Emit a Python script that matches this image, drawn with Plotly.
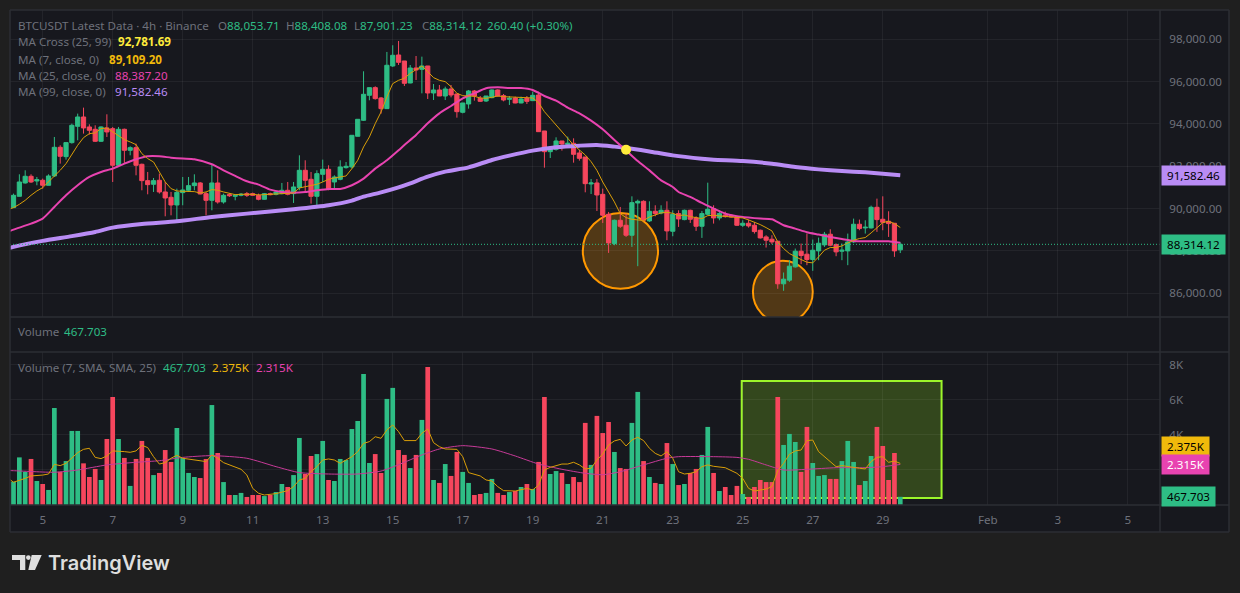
import pandas as pd
import plotly.graph_objects as go

W, H = 1240, 593
GREEN = "#2EBD85"
RED = "#F6465D"
AMBER = "#F0B90B"
MAGENTA = "#E843B0"
PURPLE = "#B98CF5"
GREY = "#6E717B"
PANE = "#17181E"
OUTER = "#1F1F1F"
GRID = "rgba(255,255,255,0.055)"
EDGE = "#2C2E34"
FONT = "Noto Sans, sans-serif"
FS = 11.6

opens = [
 90047,90583,91213,91528,91307,91339,91103,91544,92898,92457,
 93119,93890,94331,93859,93749,93182,93812,93780,92048,93749,
 92756,92882,92095,91323,91150,91339,90788,90536,90173,90756,
 90866,91087,91213,90709,90394,91213,90315,90662,90583,90630,
 90709,90709,90630,90441,90709,90677,90709,90866,90709,90992,
 91811,91386,90583,91622,91859,91260,91386,91938,91969,93418,
 94174,95355,95717,95229,94725,96741,97260,96976,95937,96645,
 96582,96740,95464,95606,95322,95653,95417,94551,94944,95559,
 95212,95086,95244,95606,95338,95165,95228,94992,95212,95102,
 95370,93669,92692,92802,93196,93039,93086,92629,92440,91165,
 91212,90676,89733,88350,89450,89214,88743,90268,90346,89419,
 89875,89796,89922,88931,89765,89482,89922,89560,89167,89733,
 90000,89560,89702,89686,89607,89214,89309,89214,88979,88664,
 88554,88460,86448,86621,87249,87988,87847,87595,88004,88287,
 88790,88303,87988,88004,88428,89262,89089,89089,90063,89497,
 89403,89309,88053.71]
highs = [
 90709,91622,91811,91622,91496,91418,91622,93386,92993,93119,
 94016,94489,94772,93985,93938,93890,94457,93859,93859,93780,
 92945,93071,92126,91733,91449,91654,91260,90788,90945,91496,
 91496,91622,91260,90788,92095,91811,90709,90740,90677,90740,
 90788,90756,90709,90740,90756,90835,91213,91260,91260,92520,
 92284,91733,91811,92315,92048,91575,92284,92205,93465,94221,
 96489,95717,95780,95276,97403,97718,97921,96976,96787,97212,
 97181,96740,95889,95842,95763,95842,95417,94992,95606,95606,
 95322,95322,95637,95637,95417,95322,95291,95291,95322,95527,
 95527,93669,92929,93370,93196,93401,93322,92771,92440,91401,
 91401,90944,89843,89482,90079,89765,90582,90425,90393,90346,
 90158,90158,90346,89922,89922,89953,89953,89639,89890,91227,
 90158,89922,89859,89733,89639,89450,89482,89372,89010,88743,
 88743,88460,86982,87564,88114,88350,88821,88538,88633,88900,
 89026,88350,88350,88821,89529,89482,89450,90142,90472,90582,
 89875,89309,88408.08]
lows = [
 90047,90583,91181,91213,91103,90945,91103,91496,92126,92315,
 93071,93229,93544,93497,93150,93150,93386,91260,92016,92126,
 92520,91575,90866,90677,90788,90709,89638,89685,89323,90158,
 90788,90866,90677,89685,89921,90236,90236,90551,90394,90583,
 90551,90600,90394,90425,90630,90630,90677,90630,90268,90866,
 90788,90236,90110,91260,90866,90945,91339,91890,91890,93418,
 94142,95119,95150,94489,94725,96694,96787,95795,95921,96078,
 95448,95181,95133,95322,95133,95259,94299,94503,94724,95102,
 95039,95039,95212,95291,95070,94897,94976,94976,94944,95086,
 93637,91936,92393,92740,92740,93007,92172,92267,90771,90692,
 89889,89324,87910,88271,89089,88664,88193,87281,89403,89372,
 89639,89733,88507,88696,89136,89450,89324,88947,88617,89686,
 89293,89450,89576,89576,89183,89136,89104,88821,88586,88161,
 88318,86212,86118,86542,87218,87375,87328,87061,87564,88193,
 88224,87752,87564,87328,88381,88979,88821,89057,88900,88979,
 88664,87721,87901.23]
closes = [
 90630,91260,91528,91260,91370,91103,91544,92898,92473,93119,
 93938,94331,93812,93701,93182,93859,93623,92048,93749,92756,
 92882,92048,91323,91134,91323,90788,90504,90173,90772,90882,
 91087,91213,90693,90394,91213,90315,90630,90614,90630,90677,
 90630,90630,90441,90709,90662,90788,90866,90677,91024,91811,
 91339,90583,91654,91859,90945,91496,91969,92000,93465,94221,
 95402,95717,95198,94725,96773,97245,96913,95921,96645,96551,
 96740,95464,95606,95322,95653,95370,94582,94992,95559,95322,
 95070,95322,95606,95322,95133,95212,94992,95181,95070,95354,
 93637,92692,92865,93196,93054,93086,92566,92377,91180,91212,
 90645,89686,88381,89450,89167,88743,90283,90346,89450,89875,
 89765,89922,88947,89733,89513,89922,89497,89167,89765,89969,
 89560,89765,89623,89607,89214,89309,89183,88916,88617,88507,
 88428,86448,86668,87281,87988,87784,87595,88035,88366,88790,
 88271,87957,88035,88428,89262,89057,89120,90063,89482,89356,
 89293,88004,88314.12]
volumes = [
 1.33,2.72,1.90,2.63,1.37,1.20,0.86,5.54,1.90,2.51,
 4.23,4.23,2.38,1.60,2.06,1.43,3.77,6.17,3.77,2.69,
 1.09,2.63,3.66,2.69,1.71,1.83,3.14,2.46,4.40,2.69,
 1.83,1.60,1.54,2.63,5.71,2.97,1.31,0.57,0.57,0.69,
 0.46,0.57,0.57,0.51,0.57,0.74,1.20,1.03,1.71,3.83,
 1.77,2.80,2.91,3.66,1.43,1.37,2.63,2.57,4.34,4.80,
 7.49,2.40,2.91,1.83,6.06,6.69,3.14,2.86,2.11,2.86,
 4.86,7.89,1.43,1.26,2.34,1.66,3.03,1.89,1.26,0.57,
 0.63,0.69,1.49,0.69,0.57,0.74,0.80,1.03,1.20,0.91,
 2.46,6.17,1.77,1.94,1.83,1.20,1.60,1.31,4.69,2.29,
 5.09,4.11,4.74,3.03,2.11,2.06,4.69,6.46,2.51,1.60,
 1.26,1.20,3.54,2.34,1.14,1.20,1.83,2.06,2.86,4.46,
 1.83,0.80,1.03,0.57,1.09,0.63,0.46,1.03,1.43,1.31,
 1.31,6.17,3.43,4.06,3.60,1.89,4.46,2.40,1.66,1.71,
 1.49,1.49,2.51,3.66,2.46,1.14,1.37,2.80,4.46,3.37,
 1.43,2.97,0.468]
ma7_idx = [-1] + list(range(153))
ma7 = [89950,
 90047,90205,90394,90630,90835,90992,91260,91575,91811,92126,
 92567,92993,93355,93544,93576,93780,93812,93623,93434,93260,
 93150,93024,92599,92363,92205,91733,91260,90945,90835,90819,
 90803,90803,90740,90788,90898,90866,90788,90740,90662,90677,
 90693,90677,90646,90662,90677,90709,90740,90740,90740,90977,
 91024,91071,91150,91260,91386,91449,91496,91544,91890,92284,
 92914,93386,94016,94568,95276,95906,96064,96157,96394,96582,
 96740,96472,96189,96063,96000,95764,95449,95338,95338,95307,
 95228,95212,95260,95322,95291,95275,95244,95228,95228,95228,
 95007,94582,94267,93952,93685,93370,93007,92771,92535,92220,
 91808,91258,90786,90315,89765,89576,89497,89450,89435,89607,
 89702,89796,89827,89780,89670,89702,89623,89560,89529,89670,
 89686,89655,89639,89623,89607,89560,89466,89372,89246,89104,
 88947,88428,88114,87878,87721,87595,87469,87438,87721,88035,
 88161,88161,88240,88381,88507,88586,88633,88853,89104,89340,
 89403,89293,89109.20]
ma25_idx = [-1,0,3,5,7,9,11,13,15,17,19,21,23,25,27,29,31,34,36,38,40,42,44,46,48,50,52,54,56,58,60,62,64,66,
            67,69,71,73,75,77,79,81,83,85,87,89,91,93,95,97,99,101,103,105,107,109,111,113,114,116,118,120,
            122,124,126,128,130,132,134,136,138,140,142,144,146,148,150,152]
ma25 = [88900,89008,89291,89528,90079,90630,91103,91496,91733,91890,92126,92331,92473,92473,92410,92363,92331,92095,
        91811,91544,91292,91134,90898,90788,90756,90788,90866,90929,90929,91103,91418,91890,92284,92756,
        93007,93480,94031,94503,94850,95212,95449,95685,95732,95700,95700,95606,95322,95102,94771,94503,94157,
        93748,93243,92751,92248,91808,91337,91022,90786,90551,90268,90000,89765,89639,89576,89529,89497,89214,
        89057,88884,88774,88664,88570,88476,88460,88460,88460,88387.20]
ma99_idx = [-1,0,5,10,14,17,22,28,34,40,48,54,58,60,63,66,68,71,74,78,82,85,89,93,97,100,103,106,109,113,118,120,125,130,134,138,142,146,149,152]
ma99 = [88120,88193,88476,88700,88900,89103,89276,89402,89606,89764,89969,90158,90380,90566,90771,91007,91196,91511,91747,
        91952,92299,92503,92740,92897,92976,93007,92930,92830,92704,92516,92358,92311,92248,92123,91965,91855,91777,
        91714,91651,91582.46]
vma7_idx = [-1,0,2,3,5,6,7,8,9,10,11,12,13,14,15,16,17,19,20,21,22,23,24,25,26,27,28,29,31,33,34,35,36,37,39,40,41,42,43,45,47,48,
            49,50,51,52,53,54,55,56,57,58,59,60,61,62,63,64,65,66,67,69,70,71,72,73,74,76,77,78,80,81,82,83,84,86,88,89,
            90,91,92,94,95,96,97,98,99,100,101,102,103,104,105,106,107,108,109,110,111,112,113,114,115,116,117,118,119,120,
            122,124,125,126,127,129,130,131,132,133,134,135,136,137,138,139,140,141,142,143,145,146,147,148,149,150,151,152]
vma7 = [1.55,1.30,1.52,1.66,1.71,1.77,2.32,2.25,2.38,2.67,2.99,3.18,3.24,2.72,2.65,2.80,3.09,3.05,3.01,3.09,3.41,3.28,2.76,2.34,
        2.42,2.67,2.84,2.67,2.57,2.48,2.86,2.67,2.42,2.29,2.04,1.71,0.95,0.67,0.57,0.65,0.82,1.05,
        1.43,1.52,1.90,2.19,2.57,2.63,2.57,2.38,2.57,2.76,3.05,3.52,3.62,3.90,3.81,4.29,4.57,4.19,3.68,3.68,4.10,4.34,3.56,3.33,3.20,
        3.18,2.76,1.85,1.66,1.43,1.37,1.05,0.82,0.80,0.95,0.86,
        1.14,2.00,2.15,2.34,2.34,2.44,2.29,2.06,2.10,2.57,2.91,3.43,3.66,3.75,3.37,3.71,3.87,3.68,3.24,2.95,2.80,3.05,2.67,1.90,1.77,
        1.81,1.90,2.19,2.29,2.21,
        2.13,1.81,1.52,0.95,0.80,0.91,1.05,1.96,2.38,2.90,3.09,3.14,3.68,3.71,3.05,2.76,2.48,2.19,2.25,2.19,2.10,2.06,2.48,2.72,2.76,2.44,2.51,2.375]
vma25_idx = [-1,0,7,11,16,21,25,29,34,40,45,49,54,59,63,66,70,73,77,82,86,90,94,98,101,104,108,112,114,120,124,126,129,132,136,141,146,149,152]
vma25 = [1.97,1.96,1.87,2.00,2.29,2.44,2.53,2.72,2.82,2.67,2.19,1.85,1.77,1.77,1.94,2.30,2.86,3.20,3.39,3.20,2.80,2.34,2.04,1.81,
         1.73,1.90,2.29,2.67,2.76,2.76,2.72,2.61,2.29,2.00,2.04,2.13,2.13,2.19,2.315]
price_ticks = [98000, 96000, 94000, 92000, 90000, 88000, 86000]
volume_ticks = [8, 6, 4, 2]
volume_labels = ["8K", "6K", "4K", "2K"]
date_ticks = ["2026-01-05","2026-01-07","2026-01-09","2026-01-11","2026-01-13","2026-01-15","2026-01-17","2026-01-19",
              "2026-01-21","2026-01-23","2026-01-25","2026-01-27","2026-01-29","2026-02-01","2026-02-03","2026-02-05"]
date_labels = ["5","7","9","11","13","15","17","19","21","23","25","27","29","Feb","3","5"]
cross_time, cross_value = "2026-01-21 16:00", 92781.69
last_price, ma99_last = 88314.12, 91582.46

for a in (opens, highs, lows, closes, volumes):
    assert len(a) == 153, len(a)
assert len(ma7) == len(ma7_idx) and len(ma25) == len(ma25_idx) and len(ma99) == len(ma99_idx)
assert len(vma7) == len(vma7_idx), (len(vma7), len(vma7_idx))
assert len(vma25) == len(vma25_idx)

start = pd.Timestamp("2026-01-04 04:00")
times = [start + pd.Timedelta(hours=4 * i) for i in range(153)]
bar_colors = [GREEN if c >= o else RED for o, c in zip(opens, closes)]
pick = lambda idx: [start + pd.Timedelta(hours=4 * i) for i in idx]

fig = go.Figure()
fig.add_trace(go.Candlestick(x=times, open=opens, high=highs, low=lows, close=closes,
    increasing=dict(line=dict(color=GREEN, width=1), fillcolor=GREEN),
    decreasing=dict(line=dict(color=RED, width=1), fillcolor=RED),
    whiskerwidth=0, xaxis="x", yaxis="y", showlegend=False, hoverinfo="skip"))
fig.add_trace(go.Scatter(x=pick(ma99_idx), y=ma99, mode="lines", line=dict(color=PURPLE, width=4, shape="spline", smoothing=0.6), xaxis="x", yaxis="y"))
fig.add_trace(go.Scatter(x=pick(ma25_idx), y=ma25, mode="lines", line=dict(color=MAGENTA, width=2, shape="spline", smoothing=0.6), xaxis="x", yaxis="y"))
fig.add_trace(go.Scatter(x=pick(ma7_idx), y=ma7, mode="lines", line=dict(color="#D99E08", width=1), xaxis="x", yaxis="y"))
fig.add_trace(go.Scatter(x=[pd.Timestamp(cross_time)], y=[cross_value], mode="markers", marker=dict(color="#FFEB3B", size=10), xaxis="x", yaxis="y"))
fig.add_trace(go.Bar(x=times, y=volumes, marker=dict(color=bar_colors, line=dict(width=0)), width=11600000, xaxis="x2", yaxis="y2"))
fig.add_trace(go.Scatter(x=pick(vma25_idx), y=vma25, mode="lines", line=dict(color="#C73A98", width=1, shape="spline", smoothing=0.6), xaxis="x2", yaxis="y2"))
fig.add_trace(go.Scatter(x=pick(vma7_idx), y=vma7, mode="lines", line=dict(color="#D99E08", width=1), xaxis="x2", yaxis="y2"))

def px(x): return x / W
def py(y): return 1 - y / H

xr = ["2026-01-04 01:35", "2026-02-05 22:05"]
xcommon = dict(domain=[px(10), px(1160)], range=xr, type="date", tickmode="array", tickvals=date_ticks,
               showgrid=True, gridcolor=GRID, gridwidth=1, zeroline=False, showline=False)
ticklab = dict(family=FONT, size=FS, color=GREY)
layout = dict(
    width=W, height=H, margin=dict(l=0, r=0, t=0, b=0), autosize=False,
    paper_bgcolor=OUTER, plot_bgcolor=PANE, showlegend=False, boxgap=0.28, boxgroupgap=0, hovermode=False,
    xaxis=dict(**xcommon, anchor="y", ticktext=[""] * len(date_ticks), rangeslider=dict(visible=False), ticks=""),
    xaxis2=dict(**xcommon, anchor="y2", ticktext=date_labels, tickfont=ticklab, ticks="outside", ticklen=4, tickcolor="rgba(0,0,0,0)"),
    yaxis=dict(domain=[py(317), py(10)], range=[84880, 99385], side="right", anchor="x", tickmode="array",
               tickvals=price_ticks, tickformat=",.2f", tickfont=ticklab, gridcolor=GRID, zeroline=False,
               ticks="outside", ticklen=6, tickcolor="rgba(0,0,0,0)", showline=False),
    yaxis2=dict(domain=[py(505), py(352)], range=[0, 8.74], side="right", anchor="x2", tickmode="array",
                tickvals=volume_ticks, ticktext=volume_labels, tickfont=ticklab, gridcolor=GRID, zeroline=False,
                ticks="outside", ticklen=6, tickcolor="rgba(0,0,0,0)", showline=False),
)

shapes = [
    dict(type="rect", xref="paper", yref="paper", x0=px(10), x1=px(1229), y0=py(532), y1=py(10), fillcolor=PANE, line=dict(width=0), layer="below"),
    dict(type="circle", xref="x", yref="y", x0="2026-01-20 10:19", x1="2026-01-22 13:55", y0=86212, y1=89796,
         line=dict(color="#FF9800", width=2), fillcolor="rgba(255,152,0,0.25)", layer="below"),
    dict(type="circle", xref="x", yref="y", x0="2026-01-25 06:58", x1="2026-01-27 00:00", y0=84610, y1=87533,
         line=dict(color="#FF9800", width=2), fillcolor="rgba(255,152,0,0.25)", layer="below"),
    dict(type="rect", xref="x2", yref="y2", x0="2026-01-24 23:17", x1="2026-01-30 16:19", y0=0.4, y1=7.09,
         line=dict(color="#9CF52A", width=2), fillcolor="rgba(130,200,30,0.27)", layer="below"),
    dict(type="line", xref="paper", yref="y", x0=px(10), x1=px(1160), y0=last_price, y1=last_price,
         line=dict(color=GREEN, width=1, dash="1px,2px")),
]
for (x0, y0, x1, y1) in [(10,10,1229,10),(10,532,1229,532),(10,10,10,532),(1229,10,1229,532),(1160,10,1160,532),
                         (10,317,1229,317),(10,352,1229,352),(10,505,1229,505)]:
    shapes.append(dict(type="line", xref="paper", yref="paper", x0=px(x0), x1=px(x1), y0=py(y0), y1=py(y1),
                       line=dict(color=EDGE, width=1.5)))
def path(points):
    return "M" + " L".join(f"{px(a):.5f},{py(b):.5f}" for a, b in points) + " Z"
LOGO = "#DEDEDE"
shapes.append(dict(type="path", xref="paper", yref="paper", path=path([(12,555),(25.3,555),(25.3,570),(20,570),(20,560),(12,560)]), fillcolor=LOGO, line=dict(width=0)))
shapes.append(dict(type="path", xref="paper", yref="paper", path=path([(31.7,555),(41.7,555),(35,570),(28.3,570)]), fillcolor=LOGO, line=dict(width=0)))
shapes.append(dict(type="circle", xref="paper", yref="paper", x0=px(26), x1=px(30.7), y0=py(560), y1=py(555.2), fillcolor=LOGO, line=dict(width=0)))
layout["shapes"] = shapes

anns = []
def label(x, y, text, color=GREY, size=FS, weight=None, family=FONT):
    t = f"<b>{text}</b>" if weight == "bold" else text
    f = dict(family=family, size=size, color=color)
    if isinstance(weight, int):
        f["weight"] = weight
    anns.append(dict(xref="paper", yref="paper", x=px(x), y=py(y), text=t, showarrow=False, xanchor="left", yanchor="middle",
                     font=f, borderpad=0, borderwidth=0))
label(18, 25, "BTCUSDT Latest Data · 4h · Binance")
for x, a, b in [(218, "O", "88,053.71"), (286, "H", "88,408.08"), (354, "L", "87,901.23"), (422, "C", "88,314.12")]:
    label(x, 25, f'{a}<span style="color:{GREEN}">{b}</span>')
label(487, 25, "260.40 (+0.30%)", GREEN)
label(18, 42, "MA Cross (25, 99)"); label(118, 42, "92,781.69", "#FFEB3B", weight="bold")
label(18, 59, "MA (7, close, 0)"); label(109, 59, "89,109.20", AMBER, weight="bold")
label(18, 76, "MA (25, close, 0)"); label(115, 76, "88,387.20", MAGENTA)
label(18, 92, "MA (99, close, 0)"); label(115, 92, "91,582.46", PURPLE)
label(18, 332, "Volume"); label(64, 332, "467.703", GREEN)
label(18, 367, "Volume (7, SMA, SMA, 25)"); label(163, 367, "467.703", GREEN); label(212, 367, "2.375K", AMBER); label(256, 367, "2.315K", MAGENTA)
label(48, 563, "TradingView", LOGO, size=20, weight=600, family="Inter, sans-serif")

def tag(y, yref, text, bg, fg="#000000", yshift=0):
    anns.append(dict(xref="paper", yref=yref, x=px(1161), y=y, text=text, showarrow=False, xanchor="left", yanchor="middle",
                     font=dict(family=FONT, size=FS, color=fg), bgcolor=bg, borderpad=2, yshift=yshift))
tag(ma99_last, "y", "&nbsp;91,582.46&nbsp;", PURPLE)
tag(last_price, "y", "&nbsp;88,314.12&nbsp;", GREEN)
tag(2.375, "y2", "&nbsp;2.375K&nbsp;", AMBER, yshift=17)
tag(2.315, "y2", "&nbsp;2.315K&nbsp;", MAGENTA, fg="#FFFFFF")
tag(0.468, "y2", "&nbsp;467.703&nbsp;", GREEN)
layout["annotations"] = anns
fig.update_layout(**layout)
fig.write_html("out.html", config={"displayModeBar": False},
               post_script="document.body.style.margin='0';document.body.style.overflow='hidden';")
